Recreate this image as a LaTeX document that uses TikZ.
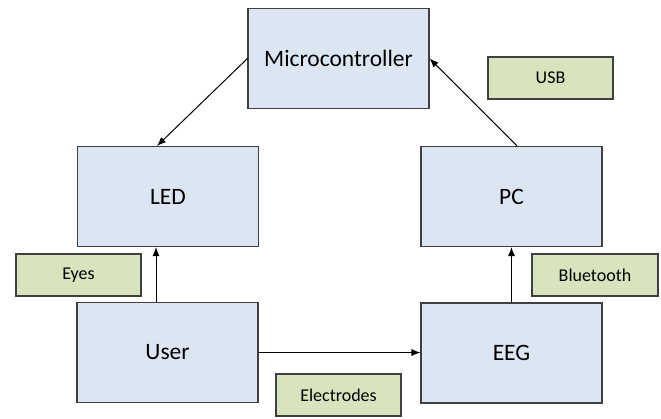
\documentclass[tikz,border=0pt]{standalone}
\usepackage{fontspec}
\setmainfont{Carlito}
\usetikzlibrary{arrows.meta}
\definecolor{boxblue}{HTML}{DCE6F2}
\definecolor{boxgreen}{HTML}{D7E4BD}
\definecolor{edge}{HTML}{404040}
\tikzset{
  block/.style={draw=edge, line width=1.1bp, fill=boxblue, minimum width=181bp, minimum height=100bp, inner sep=0pt, font=\fontsize{23.5bp}{27bp}\selectfont},
  tag/.style={draw=edge, line width=1.1bp, fill=boxgreen, minimum width=125bp, minimum height=42bp, inner sep=0pt, font=\fontsize{18bp}{21bp}\selectfont},
  conn/.style={draw=black, line width=1bp, -{Latex[length=9bp,width=7bp]}}
}
\begin{document}
\begin{tikzpicture}[x=1bp,y=-1bp]
\useasboundingbox (0,0) rectangle (661,418);
\node[block] (micro) at (338.5,58.5) {Microcontroller};
\node[block] (led) at (168,196.5) {LED};
\node[block] (pc) at (511.5,196.5) {PC};
\node[block] (user) at (167.5,352.5) {User};
\node[block] (eeg) at (511.5,353) {EEG};
\node[tag] (eyes) at (78.5,275) {Eyes};
\node[tag, minimum width=126bp] (bt) at (595,275) {Bluetooth};
\node[tag] (usb) at (550.5,78) {USB};
\node[tag] (elec) at (338.5,395) {Electrodes};
\draw[conn] (micro.west) -- ([xshift=-11bp]led.north);
\draw[conn] ([xshift=-11.5bp]user.north) -- ([xshift=-11.5bp]user.north |- led.south);
\draw[conn] (user.east) -- (user.east -| eeg.west);
\draw[conn] (eeg.north) -- (pc.south);
\draw[conn] ([xshift=5.5bp]pc.north) -- (micro.east);
\end{tikzpicture}
\end{document}
